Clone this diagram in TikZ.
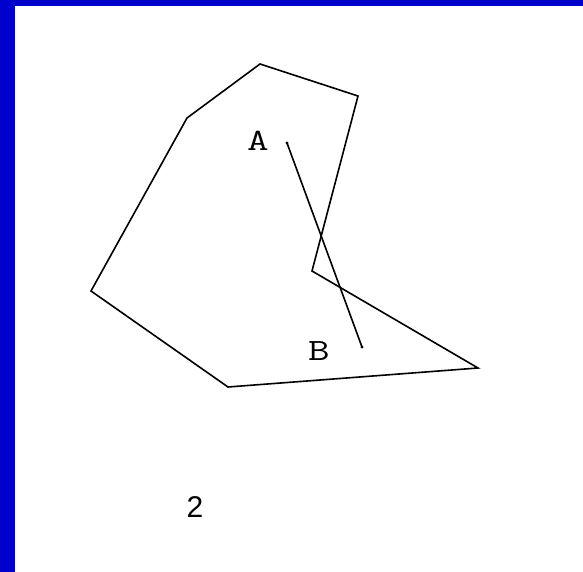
\documentclass[tikz,border=0pt]{standalone}
\usepackage{fontspec}
\setmainfont{Liberation Sans}
\definecolor{frameblue}{HTML}{0000CC}
\newcommand{\widelbl}[1]{\scalebox{1.35}[1]{#1}}
\begin{document}
\begin{tikzpicture}[x=1pt,y=-1pt,
  edge/.style={line width=1.6pt,line join=miter},
  lbl/.style={inner sep=0pt,font=\ttfamily\fontsize{31}{31}\selectfont},
  numlbl/.style={inner sep=0pt,font=\fontsize{30}{30}\selectfont}]
\useasboundingbox (0,0) rectangle (583,572);
\fill[white] (0,0) rectangle (583,572);
\fill[frameblue] (0,0) rectangle (583,6);
\fill[frameblue] (0,0) rectangle (15,572);
% polygon vertices
\coordinate (p1) at (260,64);
\coordinate (p2) at (358,96);
\coordinate (p3) at (312,271);
\coordinate (p4) at (478,368);
\coordinate (p5) at (228,387);
\coordinate (p6) at (91,291);
\coordinate (p7) at (187,118);
\draw[edge] (p1) -- (p2) -- (p3) -- (p4) -- (p5) -- (p6) -- (p7) -- cycle;
% segment AB
\coordinate (a) at (287,143);
\coordinate (b) at (362,347);
\draw[edge] (a) -- (b);
\fill (a) circle (1.7);
\fill (b) circle (1.7);
\node[lbl] (la) at (258,141) {\widelbl{A}};
\node[lbl] (lb) at (319,351) {\widelbl{B}};
\node[numlbl] (num) at (195,507) {2};
\end{tikzpicture}
\end{document}
